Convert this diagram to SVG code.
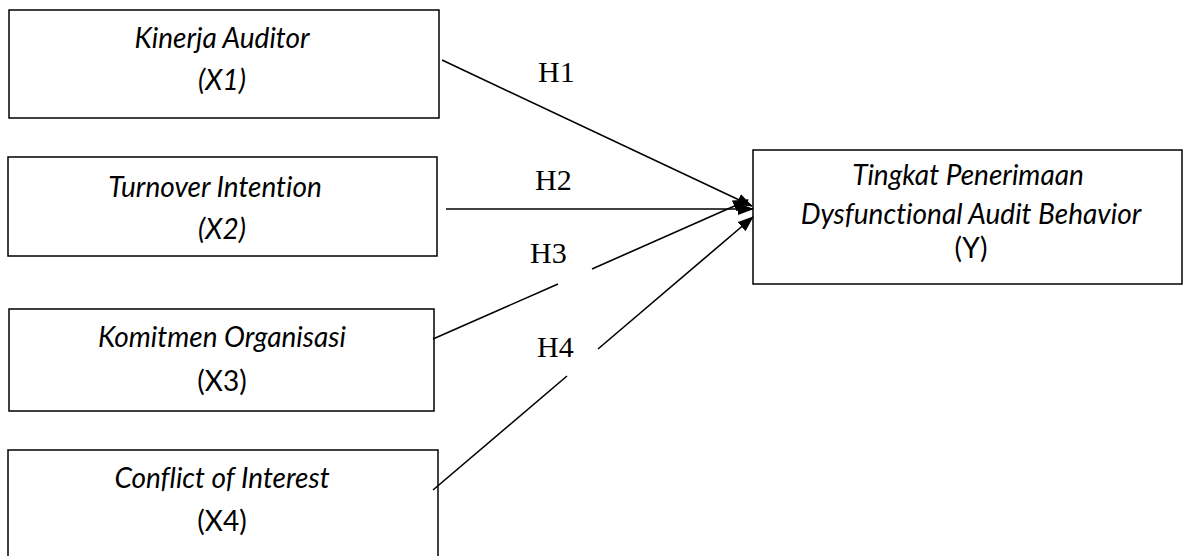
<svg xmlns="http://www.w3.org/2000/svg" width="1186" height="556" viewBox="0 0 1186 556">
<style>
.box{fill:#fff;stroke:#000;stroke-width:1.5}
.t{font-family:Lato,"Open Sans",sans-serif;font-size:28px;fill:#000;text-anchor:middle;font-variant-ligatures:none}
.i{font-style:italic}
.h{font-family:"Liberation Serif","Times New Roman",serif;font-size:30px;fill:#000}
.c{fill:none;stroke:#000;stroke-width:1.6}
</style>
<defs>
<marker id="arr" markerUnits="userSpaceOnUse" markerWidth="16" markerHeight="12" refX="15" refY="6" orient="auto">
<path d="M0,0 L16,6 L0,12 Z" fill="#000"/>
</marker>
</defs>
<g id="x1"><rect class="box" x="9" y="10" width="430" height="108"/>
<text class="t i" x="222" y="48">Kinerja Auditor</text>
<text class="t i" x="222" y="90">(X1)</text></g>
<g id="x2"><rect class="box" x="8" y="157" width="429" height="99"/>
<text class="t i" x="215" y="197">Turnover Intention</text>
<text class="t i" x="222" y="239">(X2)</text></g>
<g id="x3"><rect class="box" x="9" y="309" width="425" height="102"/>
<text class="t i" x="222" y="347">Komitmen Organisasi</text>
<text class="t" x="222" y="391">(X3)</text></g>
<g id="x4"><rect class="box" x="8" y="450" width="430" height="120"/>
<text class="t i" x="222" y="488">Conflict of Interest</text>
<text class="t" x="222" y="531">(X4)</text></g>
<g id="y"><rect class="box" x="753" y="150" width="429" height="134"/>
<text class="t i" x="968" y="185">Tingkat Penerimaan</text>
<text class="t i" x="971" y="224">Dysfunctional Audit Behavior</text>
<text class="t" x="971" y="258">(Y)</text></g>
<g id="connectors">
<path class="c" d="M442,60 L752,206" marker-end="url(#arr)"/>
<path class="c" d="M446,209 L753,209" marker-end="url(#arr)"/>
<path class="c" d="M433,339 L558,284 M592,269 L748,200" marker-end="url(#arr)"/>
<path class="c" d="M433,490 L567,376 M598,349 L753,217" marker-end="url(#arr)"/>
</g>
<g id="labels">
<text class="h" x="538" y="82">H1</text>
<text class="h" x="535" y="190">H2</text>
<text class="h" x="530" y="263">H3</text>
<text class="h" x="537" y="357">H4</text>
</g>
</svg>
